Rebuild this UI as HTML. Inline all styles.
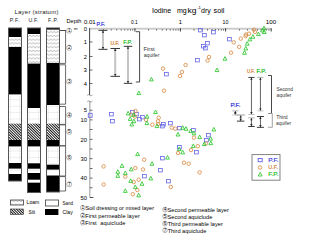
<!DOCTYPE html>
<html><head><meta charset="utf-8"><style>
html,body{margin:0;padding:0;background:#fff;width:300px;height:240px;overflow:hidden}
svg{display:block;font-family:"Liberation Sans", sans-serif}
</style></head><body>
<svg width="300" height="240" viewBox="0 0 300 240">
<defs>
<pattern id="loam" width="3.5" height="3.75" patternUnits="userSpaceOnUse" y="30.3">
<path d="M-1.75 1.2L0 2.5L1.75 1.2L3.5 2.5L5.25 1.2" fill="none" stroke="#999" stroke-width="0.65"/>
</pattern>
<pattern id="sand" width="1.6" height="6.4" patternUnits="userSpaceOnUse" y="1.5">
<rect x="0.4" y="2" width="0.7" height="0.7" fill="#c8c8c8"/>
</pattern>
<pattern id="silt" width="1.9" height="1.9" patternUnits="userSpaceOnUse" patternTransform="rotate(-45)">
<rect x="0" y="0" width="0.95" height="1.9" fill="#111"/>
</pattern>
</defs>

<text x="14.47" y="13.6" font-size="6.0" fill="#222" textLength="43.93" lengthAdjust="spacing" >Layer (stratum)</text>
<text x="9.65" y="21.6" font-size="5.2" fill="#222" textLength="10.05" lengthAdjust="spacing" >P.F.</text>
<text x="28.41" y="21.6" font-size="5.2" fill="#222" textLength="9.66" lengthAdjust="spacing" >U.F.</text>
<text x="48.04" y="21.6" font-size="5.2" fill="#222" textLength="10.27" lengthAdjust="spacing" >F.P.</text>
<rect x="8" y="28" width="14" height="9.0" fill="#000"/>
<rect x="8" y="37" width="14" height="10.0" fill="url(#loam)"/>
<rect x="8" y="47" width="14" height="47.4" fill="#000"/>
<rect x="8" y="94.4" width="14" height="29.2" fill="url(#sand)"/>
<path d="M10.3 95.9V122.1M19.8 95.9V122.1" stroke="#c8c8c8" stroke-width="0.7" stroke-dasharray="0.7 1"/>
<rect x="8" y="123.6" width="14" height="16.4" fill="url(#silt)"/>
<rect x="8" y="140" width="14" height="6.4" fill="#000"/>
<rect x="8" y="146.4" width="14" height="16.6" fill="url(#sand)"/>
<path d="M10.3 147.9V161.5M19.8 147.9V161.5" stroke="#c8c8c8" stroke-width="0.7" stroke-dasharray="0.7 1"/>
<rect x="8" y="163" width="14" height="5.6" fill="#000"/>
<rect x="8" y="168.6" width="14" height="5.4" fill="url(#sand)"/>
<rect x="8" y="174" width="14" height="7.0" fill="#000"/>
<rect x="8.5" y="28" width="13" height="153.0" fill="none" stroke="#555" stroke-width="1"/>
<rect x="27" y="28" width="14" height="6.0" fill="#000"/>
<rect x="27" y="34" width="14" height="29.6" fill="url(#loam)"/>
<rect x="27" y="63.6" width="14" height="44.4" fill="#000"/>
<rect x="27" y="108" width="14" height="15.6" fill="url(#sand)"/>
<path d="M29.3 109.5V122.1M38.8 109.5V122.1" stroke="#c8c8c8" stroke-width="0.7" stroke-dasharray="0.7 1"/>
<rect x="27" y="123.6" width="14" height="16.4" fill="url(#silt)"/>
<rect x="27" y="140" width="14" height="6.4" fill="#000"/>
<rect x="27" y="146.4" width="14" height="16.9" fill="url(#sand)"/>
<path d="M29.3 147.9V161.8M38.8 147.9V161.8" stroke="#c8c8c8" stroke-width="0.7" stroke-dasharray="0.7 1"/>
<rect x="27" y="163.3" width="14" height="5.4" fill="#000"/>
<rect x="27" y="168.7" width="14" height="4.3" fill="url(#sand)"/>
<rect x="27" y="173" width="14" height="6.7" fill="#000"/>
<rect x="27" y="179.7" width="14" height="3.0" fill="url(#sand)"/>
<rect x="27" y="182.7" width="14" height="9.8" fill="#000"/>
<rect x="27.5" y="28" width="13" height="164.5" fill="none" stroke="#555" stroke-width="1"/>
<rect x="46" y="28" width="14" height="1.6" fill="#000"/>
<rect x="46" y="29.6" width="14" height="33.4" fill="url(#loam)"/>
<rect x="46" y="63" width="14" height="42.0" fill="#000"/>
<rect x="46" y="105" width="14" height="18.6" fill="url(#sand)"/>
<path d="M48.3 106.5V122.1M57.8 106.5V122.1" stroke="#c8c8c8" stroke-width="0.7" stroke-dasharray="0.7 1"/>
<rect x="46" y="123.6" width="14" height="16.4" fill="url(#silt)"/>
<rect x="46" y="140" width="14" height="6.4" fill="#000"/>
<rect x="46" y="146.4" width="14" height="18.3" fill="url(#sand)"/>
<path d="M48.3 147.9V163.2M57.8 147.9V163.2" stroke="#c8c8c8" stroke-width="0.7" stroke-dasharray="0.7 1"/>
<rect x="46" y="164.7" width="14" height="4.9" fill="#000"/>
<rect x="46" y="169.6" width="14" height="5.9" fill="url(#sand)"/>
<rect x="46" y="175.5" width="14" height="16.5" fill="#000"/>
<rect x="46.5" y="28" width="13" height="164.0" fill="none" stroke="#555" stroke-width="1"/>
<path d="M60 30.5H66" stroke="#444" stroke-width="0.8" fill="none"/>
<path d="M60 30.5H65.6V63.4H60" stroke="#444" stroke-width="0.8" fill="none"/>
<path d="M60 64.8H65.6V104.2H60" stroke="#444" stroke-width="0.8" fill="none"/>
<path d="M60 106.5H65.6V124.4H60" stroke="#444" stroke-width="0.8" fill="none"/>
<path d="M60 124.9H65.6V145.8H60" stroke="#444" stroke-width="0.8" fill="none"/>
<path d="M60 145.8H65.6V176H60" stroke="#444" stroke-width="0.8" fill="none"/>
<path d="M60 176.6H65.6V191H60" stroke="#444" stroke-width="0.8" fill="none"/>
<circle cx="69.2" cy="30.7" r="2.5" fill="none" stroke="#666" stroke-width="0.5"/><text x="69.3" y="32.35" font-size="4.6" text-anchor="middle" fill="#000">1</text>
<circle cx="69.2" cy="47.8" r="2.5" fill="none" stroke="#666" stroke-width="0.5"/><text x="69.3" y="49.449999999999996" font-size="4.6" text-anchor="middle" fill="#000">2</text>
<circle cx="69.2" cy="81.5" r="2.5" fill="none" stroke="#666" stroke-width="0.5"/><text x="69.3" y="83.15" font-size="4.6" text-anchor="middle" fill="#000">3</text>
<circle cx="69.2" cy="115" r="2.5" fill="none" stroke="#666" stroke-width="0.5"/><text x="69.3" y="116.65" font-size="4.6" text-anchor="middle" fill="#000">4</text>
<circle cx="69.2" cy="131.8" r="2.5" fill="none" stroke="#666" stroke-width="0.5"/><text x="69.3" y="133.45000000000002" font-size="4.6" text-anchor="middle" fill="#000">5</text>
<circle cx="69.2" cy="157.5" r="2.5" fill="none" stroke="#666" stroke-width="0.5"/><text x="69.3" y="159.15" font-size="4.6" text-anchor="middle" fill="#000">6</text>
<circle cx="69.2" cy="184.3" r="2.5" fill="none" stroke="#666" stroke-width="0.5"/><text x="69.3" y="185.95000000000002" font-size="4.6" text-anchor="middle" fill="#000">7</text>
<text x="66.54" y="23" font-size="5.6" fill="#000" textLength="14.82" lengthAdjust="spacingAndGlyphs" >Depth</text>
<text x="74" y="29.5" font-size="4.2" fill="#000" text-anchor="start" >m</text>
<text x="87" y="31.4" font-size="5.8" fill="#000" text-anchor="end" >0</text>
<text x="87" y="44.3" font-size="5.8" fill="#000" text-anchor="end" >1</text>
<text x="87" y="58.6" font-size="5.8" fill="#000" text-anchor="end" >2</text>
<text x="87" y="72.4" font-size="6.1" fill="#000" text-anchor="end" >3</text>
<text x="87" y="85.6" font-size="5.8" fill="#000" text-anchor="end" >4</text>
<text x="87" y="112.2" font-size="5.8" fill="#000" text-anchor="end" >5</text>
<text x="87" y="122.3" font-size="5.8" fill="#000" text-anchor="end" >10</text>
<text x="87" y="141.8" font-size="5.8" fill="#000" text-anchor="end" >20</text>
<text x="87" y="161.3" font-size="5.8" fill="#000" text-anchor="end" >30</text>
<text x="87" y="180.4" font-size="5.8" fill="#000" text-anchor="end" >40</text>
<text x="87" y="200" font-size="5.8" fill="#000" text-anchor="end" >50</text>
<rect x="89" y="27.8" width="182.5" height="1.8" fill="#c8c8c8"/>
<rect x="89.0" y="28.3" width="0.9" height="3.2" fill="#222"/>
<rect x="134.5" y="28.3" width="0.9" height="3.2" fill="#222"/>
<rect x="179.9" y="28.3" width="0.9" height="3.2" fill="#222"/>
<rect x="225.2" y="28.3" width="0.9" height="3.2" fill="#222"/>
<rect x="270.7" y="28.3" width="0.9" height="3.2" fill="#222"/>
<rect x="102.8" y="29.2" width="0.8" height="1.3" fill="#333"/>
<rect x="110.8" y="29.2" width="0.8" height="1.3" fill="#333"/>
<rect x="116.4" y="29.2" width="0.8" height="1.3" fill="#333"/>
<rect x="120.8" y="29.2" width="0.8" height="1.3" fill="#333"/>
<rect x="124.4" y="29.2" width="0.8" height="1.3" fill="#333"/>
<rect x="127.5" y="29.2" width="0.8" height="1.3" fill="#333"/>
<rect x="130.1" y="29.2" width="0.8" height="1.3" fill="#333"/>
<rect x="132.4" y="29.2" width="0.8" height="1.3" fill="#333"/>
<rect x="148.2" y="29.2" width="0.8" height="1.3" fill="#333"/>
<rect x="156.2" y="29.2" width="0.8" height="1.3" fill="#333"/>
<rect x="161.8" y="29.2" width="0.8" height="1.3" fill="#333"/>
<rect x="166.2" y="29.2" width="0.8" height="1.3" fill="#333"/>
<rect x="169.8" y="29.2" width="0.8" height="1.3" fill="#333"/>
<rect x="172.9" y="29.2" width="0.8" height="1.3" fill="#333"/>
<rect x="175.5" y="29.2" width="0.8" height="1.3" fill="#333"/>
<rect x="177.8" y="29.2" width="0.8" height="1.3" fill="#333"/>
<rect x="193.6" y="29.2" width="0.8" height="1.3" fill="#333"/>
<rect x="201.6" y="29.2" width="0.8" height="1.3" fill="#333"/>
<rect x="207.2" y="29.2" width="0.8" height="1.3" fill="#333"/>
<rect x="211.6" y="29.2" width="0.8" height="1.3" fill="#333"/>
<rect x="215.2" y="29.2" width="0.8" height="1.3" fill="#333"/>
<rect x="218.3" y="29.2" width="0.8" height="1.3" fill="#333"/>
<rect x="220.9" y="29.2" width="0.8" height="1.3" fill="#333"/>
<rect x="223.2" y="29.2" width="0.8" height="1.3" fill="#333"/>
<rect x="239.0" y="29.2" width="0.8" height="1.3" fill="#333"/>
<rect x="247.0" y="29.2" width="0.8" height="1.3" fill="#333"/>
<rect x="252.6" y="29.2" width="0.8" height="1.3" fill="#333"/>
<rect x="257.0" y="29.2" width="0.8" height="1.3" fill="#333"/>
<rect x="260.6" y="29.2" width="0.8" height="1.3" fill="#333"/>
<rect x="263.7" y="29.2" width="0.8" height="1.3" fill="#333"/>
<rect x="266.3" y="29.2" width="0.8" height="1.3" fill="#333"/>
<rect x="268.6" y="29.2" width="0.8" height="1.3" fill="#333"/>
<rect x="89" y="28" width="1.1" height="67" fill="#555"/>
<rect x="90" y="41.6" width="2.5" height="0.8" fill="#444"/>
<rect x="90" y="56.1" width="2.5" height="0.8" fill="#444"/>
<rect x="90" y="69.6" width="2.5" height="0.8" fill="#444"/>
<rect x="90" y="83.1" width="2.5" height="0.8" fill="#444"/>
<path d="M87.2 95.3Q88.5 94 89.8 95.3T92.5 95" stroke="#666" stroke-width="0.6" fill="none"/>
<rect x="89.2" y="101" width="1.2" height="96.5" fill="#aaa"/>
<path d="M87.2 101.5Q88.5 100.2 89.8 101.5T92.5 101" stroke="#666" stroke-width="0.6" fill="none"/>
<rect x="90" y="109.8" width="2.5" height="0.8" fill="#444"/>
<rect x="90" y="119.5" width="2.5" height="0.8" fill="#444"/>
<rect x="90" y="129.2" width="2.5" height="0.8" fill="#444"/>
<rect x="90" y="138.9" width="2.5" height="0.8" fill="#444"/>
<rect x="90" y="148.6" width="2.5" height="0.8" fill="#444"/>
<rect x="90" y="158.3" width="2.5" height="0.8" fill="#444"/>
<rect x="90" y="168.0" width="2.5" height="0.8" fill="#444"/>
<rect x="90" y="177.7" width="2.5" height="0.8" fill="#444"/>
<rect x="90" y="187.4" width="2.5" height="0.8" fill="#444"/>
<rect x="90" y="197.1" width="2.5" height="0.8" fill="#444"/>
<rect x="90" y="197" width="3.5" height="0.8" fill="#444"/>
<text x="83.96" y="23.9" font-size="5.8" fill="#000" textLength="11.73" lengthAdjust="spacingAndGlyphs" >0.01</text>
<text x="131.01" y="23.9" font-size="5.8" fill="#000" textLength="6.73" lengthAdjust="spacingAndGlyphs" >0.1</text>
<text x="222.60" y="23.9" font-size="5.8" fill="#000" textLength="5.80" lengthAdjust="spacingAndGlyphs" >10</text>
<text x="265.82" y="23.9" font-size="5.8" fill="#000" textLength="10.42" lengthAdjust="spacingAndGlyphs" >100</text>
<text x="180.3" y="23.9" font-size="5.8" fill="#000" text-anchor="middle" >1</text>
<text x="151.95" y="12.7" font-size="6.4" fill="#000" textLength="19.16" lengthAdjust="spacingAndGlyphs" >Iodine</text>
<text x="177.04" y="12.7" font-size="6.4" fill="#000" textLength="9.72" lengthAdjust="spacingAndGlyphs" >mg</text>
<text x="187.43" y="12.7" font-size="6.4" fill="#000" textLength="8.91" lengthAdjust="spacingAndGlyphs" >kg</text>
<text x="197.21" y="9.4" font-size="4.0" fill="#000" textLength="3.80" lengthAdjust="spacingAndGlyphs" >-1</text>
<text x="201.11" y="12.7" font-size="6.4" fill="#000" textLength="9.71" lengthAdjust="spacingAndGlyphs" >dry</text>
<text x="213.50" y="12.7" font-size="6.4" fill="#000" textLength="10.89" lengthAdjust="spacingAndGlyphs" >soil</text>
<rect x="102" y="30.3" width="2" height="19.0" fill="#c4c4c4"/><rect x="98.5" y="29.85" width="9" height="0.9" fill="#222"/><rect x="98.5" y="48.85" width="9" height="0.9" fill="#222"/><path d="M103 30.6L104.2 32.7L101.8 32.7Z" fill="#222"/><path d="M103 49.0L104.2 46.9L101.8 46.9Z" fill="#222"/>
<rect x="114.2" y="48.5" width="2" height="27.8" fill="#c4c4c4"/><rect x="110.5" y="48.05" width="9.5" height="0.9" fill="#222"/><rect x="110.5" y="75.85" width="9.5" height="0.9" fill="#222"/><path d="M115.2 48.8L116.4 50.9L114.0 50.9Z" fill="#222"/><path d="M115.2 76.0L116.4 73.9L114.0 73.9Z" fill="#222"/>
<rect x="127" y="46.3" width="2" height="37.0" fill="#c4c4c4"/><rect x="123.8" y="45.85" width="8.5" height="0.9" fill="#222"/><rect x="123.8" y="82.85" width="8.5" height="0.9" fill="#222"/><path d="M128 46.6L129.2 48.7L126.8 48.7Z" fill="#222"/><path d="M128 83.0L129.2 80.9L126.8 80.9Z" fill="#222"/>
<text x="96.51" y="25.6" font-size="5.0" fill="#3c3cd8" textLength="8.61" lengthAdjust="spacingAndGlyphs" stroke="#3c3cd8" stroke-width="0.2">P.F.</text>
<text x="110.44" y="44.6" font-size="5.0" fill="#d27c32" textLength="8.78" lengthAdjust="spacingAndGlyphs" stroke="#d27c32" stroke-width="0.2">U.F.</text>
<text x="123.20" y="43.5" font-size="5.0" fill="#28c028" textLength="8.84" lengthAdjust="spacingAndGlyphs" stroke="#28c028" stroke-width="0.2">F.P.</text>
<path d="M135.8 31.7H139.6V82H135.8" stroke="#333" stroke-width="0.9" fill="none"/>
<text x="143.53" y="51" font-size="5" fill="#333" textLength="11.22" lengthAdjust="spacingAndGlyphs" >First</text>
<text x="143.78" y="56.6" font-size="5" fill="#333" textLength="15.60" lengthAdjust="spacingAndGlyphs" >aquifer</text>
<rect x="250.95000000000002" y="77.4" width="0.9" height="37.1" fill="#555"/><rect x="248.3" y="76.95" width="6.2" height="0.9" fill="#333"/><rect x="248.3" y="114.05" width="6.2" height="0.9" fill="#bbb"/><path d="M251.4 77.7L252.6 79.8L250.2 79.8Z" fill="#222"/><path d="M251.4 114.2L252.6 112.1L250.2 112.1Z" fill="#222"/>
<rect x="259.95" y="77.4" width="0.9" height="33.5" fill="#555"/><rect x="257.3" y="76.95" width="6.2" height="0.9" fill="#aaa"/><rect x="257.3" y="110.45" width="6.2" height="0.9" fill="#bbb"/><path d="M260.4 77.7L261.6 79.8L259.2 79.8Z" fill="#222"/><path d="M260.4 110.6L261.6 108.5L259.2 108.5Z" fill="#222"/>
<text x="246.98" y="73.3" font-size="4.9" fill="#d27c32" textLength="7.80" lengthAdjust="spacingAndGlyphs" stroke="#d27c32" stroke-width="0.2">U.F.</text>
<text x="256.58" y="73.3" font-size="4.9" fill="#28c028" textLength="9.50" lengthAdjust="spacingAndGlyphs" stroke="#28c028" stroke-width="0.2">F.P.</text>
<text x="230.45" y="107.4" font-size="4.9" fill="#3c3cd8" textLength="10.05" lengthAdjust="spacingAndGlyphs" stroke="#3c3cd8" stroke-width="0.2">P.F.</text>
<rect x="234.85000000000002" y="110.9" width="0.9" height="4.0" fill="#555"/><rect x="232.3" y="110.45" width="6" height="0.9" fill="#aaa"/><rect x="232.3" y="114.45" width="6" height="0.9" fill="#bbb"/><path d="M235.3 111.2L236.5 113.3L234.1 113.3Z" fill="#222"/><path d="M235.3 114.6L236.5 112.5L234.1 112.5Z" fill="#222"/>
<rect x="235" y="114.45" width="10.3" height="0.9" fill="#bbb"/>
<rect x="240.25" y="115.2" width="0.9" height="5.9" fill="#555"/><rect x="236.9" y="114.75" width="7.5" height="0.9" fill="#bbb"/><rect x="236.9" y="120.65" width="7.5" height="0.9" fill="#222"/><path d="M240.7 115.5L241.9 117.6L239.5 117.6Z" fill="#222"/><path d="M240.7 120.8L241.9 118.7L239.5 118.7Z" fill="#222"/>
<rect x="250.95000000000002" y="117.9" width="0.9" height="8.6" fill="#555"/><rect x="248.2" y="117.45" width="6.5" height="0.9" fill="#aaa"/><rect x="248.2" y="126.05" width="6.5" height="0.9" fill="#222"/><path d="M251.4 118.2L252.6 120.3L250.2 120.3Z" fill="#222"/><path d="M251.4 126.2L252.6 124.1L250.2 124.1Z" fill="#222"/>
<rect x="259.95" y="116.5" width="0.9" height="10.8" fill="#555"/><rect x="256.9" y="116.05" width="7" height="0.9" fill="#222"/><rect x="256.9" y="126.85" width="7" height="0.9" fill="#222"/><path d="M260.4 116.8L261.6 118.9L259.2 118.9Z" fill="#222"/><path d="M260.4 127.0L261.6 124.9L259.2 124.9Z" fill="#222"/>
<path d="M268 75.5H271.5V113.5H268" stroke="#333" stroke-width="0.9" fill="none"/>
<path d="M268 113.5H272.3V127.3H268" stroke="#999" stroke-width="0.9" fill="none"/>
<text x="276.48" y="90.8" font-size="5" fill="#333" textLength="16.54" lengthAdjust="spacingAndGlyphs" >Second</text>
<text x="276.49" y="96.6" font-size="5" fill="#333" textLength="14.89" lengthAdjust="spacingAndGlyphs" >aquifer</text>
<text x="276.19" y="118.6" font-size="5" fill="#333" textLength="11.44" lengthAdjust="spacingAndGlyphs" >Third</text>
<text x="276.09" y="124.6" font-size="5" fill="#333" textLength="14.99" lengthAdjust="spacingAndGlyphs" >aquifer</text>
<rect x="88.3" y="113.3" width="3.8" height="4" fill="none" stroke="#6e6ee6" stroke-width="0.9"/>
<rect x="198.5" y="28.5" width="3.8" height="3.4" fill="none" stroke="#6e6ee6" stroke-width="0.85"/>
<rect x="202.5" y="33.5" width="3.8" height="3.4" fill="none" stroke="#6e6ee6" stroke-width="0.85"/>
<rect x="211.5" y="30.5" width="3.8" height="3.4" fill="none" stroke="#6e6ee6" stroke-width="0.85"/>
<rect x="227.5" y="37.5" width="3.8" height="3.4" fill="none" stroke="#6e6ee6" stroke-width="0.85"/>
<rect x="205.5" y="41.5" width="3.8" height="3.4" fill="none" stroke="#6e6ee6" stroke-width="0.85"/>
<rect x="201.5" y="44.5" width="3.8" height="3.4" fill="none" stroke="#6e6ee6" stroke-width="0.85"/>
<rect x="203.5" y="46.5" width="3.8" height="3.4" fill="none" stroke="#6e6ee6" stroke-width="0.85"/>
<rect x="195.5" y="58.5" width="3.8" height="3.4" fill="none" stroke="#6e6ee6" stroke-width="0.85"/>
<rect x="164.5" y="72.5" width="3.8" height="3.4" fill="none" stroke="#6e6ee6" stroke-width="0.85"/>
<rect x="109.5" y="112.5" width="3.8" height="3.4" fill="none" stroke="#6e6ee6" stroke-width="0.85"/>
<rect x="110.5" y="119.5" width="3.8" height="3.4" fill="none" stroke="#6e6ee6" stroke-width="0.85"/>
<rect x="130.5" y="110.5" width="3.8" height="3.4" fill="none" stroke="#6e6ee6" stroke-width="0.85"/>
<rect x="134.5" y="112.5" width="3.8" height="3.4" fill="none" stroke="#6e6ee6" stroke-width="0.85"/>
<rect x="137.5" y="117.5" width="3.8" height="3.4" fill="none" stroke="#6e6ee6" stroke-width="0.85"/>
<rect x="140.5" y="115.5" width="3.8" height="3.4" fill="none" stroke="#6e6ee6" stroke-width="0.85"/>
<rect x="161.5" y="122.5" width="3.8" height="3.4" fill="none" stroke="#6e6ee6" stroke-width="0.85"/>
<rect x="160.5" y="124.5" width="3.8" height="3.4" fill="none" stroke="#6e6ee6" stroke-width="0.85"/>
<rect x="168.5" y="121.5" width="3.8" height="3.4" fill="none" stroke="#6e6ee6" stroke-width="0.85"/>
<rect x="177.5" y="126.5" width="3.8" height="3.4" fill="none" stroke="#6e6ee6" stroke-width="0.85"/>
<rect x="191.5" y="128.5" width="3.8" height="3.4" fill="none" stroke="#6e6ee6" stroke-width="0.85"/>
<rect x="206.5" y="133.5" width="3.8" height="3.4" fill="none" stroke="#6e6ee6" stroke-width="0.85"/>
<rect x="204.5" y="138.5" width="3.8" height="3.4" fill="none" stroke="#6e6ee6" stroke-width="0.85"/>
<rect x="177.5" y="145.5" width="3.8" height="3.4" fill="none" stroke="#6e6ee6" stroke-width="0.85"/>
<rect x="194.5" y="150.5" width="3.8" height="3.4" fill="none" stroke="#6e6ee6" stroke-width="0.85"/>
<rect x="160.5" y="156.5" width="3.8" height="3.4" fill="none" stroke="#6e6ee6" stroke-width="0.85"/>
<rect x="158.5" y="168.5" width="3.8" height="3.4" fill="none" stroke="#6e6ee6" stroke-width="0.85"/>
<rect x="142.5" y="174.5" width="3.8" height="3.4" fill="none" stroke="#6e6ee6" stroke-width="0.85"/>
<rect x="166.5" y="179.5" width="3.8" height="3.4" fill="none" stroke="#6e6ee6" stroke-width="0.85"/>
<circle cx="163.0" cy="68.6" r="1.75" fill="none" stroke="#d98c48" stroke-width="0.85"/>
<circle cx="185.6" cy="65.0" r="1.75" fill="none" stroke="#d98c48" stroke-width="0.85"/>
<circle cx="182.0" cy="72.0" r="1.75" fill="none" stroke="#d98c48" stroke-width="0.85"/>
<circle cx="180.0" cy="76.0" r="1.75" fill="none" stroke="#d98c48" stroke-width="0.85"/>
<circle cx="164.0" cy="90.7" r="1.75" fill="none" stroke="#d98c48" stroke-width="0.85"/>
<circle cx="209.0" cy="57.0" r="1.75" fill="none" stroke="#d98c48" stroke-width="0.85"/>
<circle cx="207.6" cy="60.6" r="1.75" fill="none" stroke="#d98c48" stroke-width="0.85"/>
<circle cx="231.0" cy="52.7" r="1.75" fill="none" stroke="#d98c48" stroke-width="0.85"/>
<circle cx="233.7" cy="42.3" r="1.75" fill="none" stroke="#d98c48" stroke-width="0.85"/>
<circle cx="239.2" cy="46.8" r="1.75" fill="none" stroke="#d98c48" stroke-width="0.85"/>
<circle cx="240.8" cy="38.6" r="1.75" fill="none" stroke="#d98c48" stroke-width="0.85"/>
<circle cx="245.6" cy="36.1" r="1.75" fill="none" stroke="#d98c48" stroke-width="0.85"/>
<circle cx="246.1" cy="34.5" r="1.75" fill="none" stroke="#d98c48" stroke-width="0.85"/>
<circle cx="249.0" cy="33.7" r="1.75" fill="none" stroke="#d98c48" stroke-width="0.85"/>
<circle cx="253.9" cy="29.7" r="1.75" fill="none" stroke="#d98c48" stroke-width="0.85"/>
<circle cx="255.0" cy="31.9" r="1.75" fill="none" stroke="#d98c48" stroke-width="0.85"/>
<circle cx="135.5" cy="111.0" r="1.75" fill="none" stroke="#d98c48" stroke-width="0.85"/>
<circle cx="131.3" cy="114.7" r="1.75" fill="none" stroke="#d98c48" stroke-width="0.85"/>
<circle cx="135.0" cy="116.6" r="1.75" fill="none" stroke="#d98c48" stroke-width="0.85"/>
<circle cx="146.0" cy="119.8" r="1.75" fill="none" stroke="#d98c48" stroke-width="0.85"/>
<circle cx="152.4" cy="124.7" r="1.75" fill="none" stroke="#d98c48" stroke-width="0.85"/>
<circle cx="158.7" cy="117.7" r="1.75" fill="none" stroke="#d98c48" stroke-width="0.85"/>
<circle cx="158.0" cy="121.3" r="1.75" fill="none" stroke="#d98c48" stroke-width="0.85"/>
<circle cx="158.0" cy="123.9" r="1.75" fill="none" stroke="#d98c48" stroke-width="0.85"/>
<circle cx="171.7" cy="127.7" r="1.75" fill="none" stroke="#d98c48" stroke-width="0.85"/>
<circle cx="175.3" cy="128.7" r="1.75" fill="none" stroke="#d98c48" stroke-width="0.85"/>
<circle cx="194.0" cy="137.6" r="1.75" fill="none" stroke="#d98c48" stroke-width="0.85"/>
<circle cx="205.9" cy="143.5" r="1.75" fill="none" stroke="#d98c48" stroke-width="0.85"/>
<circle cx="197.8" cy="146.2" r="1.75" fill="none" stroke="#d98c48" stroke-width="0.85"/>
<circle cx="191.0" cy="150.0" r="1.75" fill="none" stroke="#d98c48" stroke-width="0.85"/>
<circle cx="178.0" cy="153.0" r="1.75" fill="none" stroke="#d98c48" stroke-width="0.85"/>
<circle cx="184.0" cy="162.7" r="1.75" fill="none" stroke="#d98c48" stroke-width="0.85"/>
<circle cx="188.7" cy="163.7" r="1.75" fill="none" stroke="#d98c48" stroke-width="0.85"/>
<circle cx="199.6" cy="172.4" r="1.75" fill="none" stroke="#d98c48" stroke-width="0.85"/>
<circle cx="144.2" cy="159.7" r="1.75" fill="none" stroke="#d98c48" stroke-width="0.85"/>
<circle cx="143.0" cy="169.5" r="1.75" fill="none" stroke="#d98c48" stroke-width="0.85"/>
<circle cx="135.3" cy="168.0" r="1.75" fill="none" stroke="#d98c48" stroke-width="0.85"/>
<circle cx="125.3" cy="176.7" r="1.75" fill="none" stroke="#d98c48" stroke-width="0.85"/>
<circle cx="138.7" cy="179.7" r="1.75" fill="none" stroke="#d98c48" stroke-width="0.85"/>
<circle cx="133.7" cy="182.0" r="1.75" fill="none" stroke="#d98c48" stroke-width="0.85"/>
<circle cx="137.3" cy="190.0" r="1.75" fill="none" stroke="#d98c48" stroke-width="0.85"/>
<circle cx="132.8" cy="194.2" r="1.75" fill="none" stroke="#d98c48" stroke-width="0.85"/>
<circle cx="103.6" cy="166.4" r="1.75" fill="none" stroke="#d98c48" stroke-width="0.85"/>
<circle cx="103.6" cy="184.5" r="1.75" fill="none" stroke="#d98c48" stroke-width="0.85"/>
<circle cx="170.8" cy="187.0" r="1.75" fill="none" stroke="#d98c48" stroke-width="0.85"/>
<path d="M151.4 77.3L153.3 80.9L149.5 80.9Z" fill="none" stroke="#38c838" stroke-width="0.9"/>
<path d="M138.8 91.0L140.7 94.6L136.9 94.6Z" fill="none" stroke="#38c838" stroke-width="0.9"/>
<path d="M217.0 68.0L218.9 71.6L215.1 71.6Z" fill="none" stroke="#38c838" stroke-width="0.9"/>
<path d="M225.0 56.6L226.9 60.2L223.1 60.2Z" fill="none" stroke="#38c838" stroke-width="0.9"/>
<path d="M244.5 50.7L246.4 54.3L242.6 54.3Z" fill="none" stroke="#38c838" stroke-width="0.9"/>
<path d="M245.8 46.4L247.7 50.0L243.9 50.0Z" fill="none" stroke="#38c838" stroke-width="0.9"/>
<path d="M247.2 41.6L249.1 45.2L245.3 45.2Z" fill="none" stroke="#38c838" stroke-width="0.9"/>
<path d="M249.9 37.3L251.8 40.9L248.0 40.9Z" fill="none" stroke="#38c838" stroke-width="0.9"/>
<path d="M252.9 34.7L254.8 38.3L251.0 38.3Z" fill="none" stroke="#38c838" stroke-width="0.9"/>
<path d="M258.4 32.0L260.3 35.6L256.5 35.6Z" fill="none" stroke="#38c838" stroke-width="0.9"/>
<path d="M262.5 28.3L264.4 31.9L260.6 31.9Z" fill="none" stroke="#38c838" stroke-width="0.9"/>
<path d="M264.0 26.1L265.9 29.7L262.1 29.7Z" fill="none" stroke="#38c838" stroke-width="0.9"/>
<path d="M264.3 29.9L266.2 33.5L262.4 33.5Z" fill="none" stroke="#38c838" stroke-width="0.9"/>
<path d="M128.1 111.3L130.0 114.9L126.2 114.9Z" fill="none" stroke="#38c838" stroke-width="0.9"/>
<path d="M133.6 112.7L135.5 116.3L131.7 116.3Z" fill="none" stroke="#38c838" stroke-width="0.9"/>
<path d="M130.2 116.8L132.1 120.4L128.3 120.4Z" fill="none" stroke="#38c838" stroke-width="0.9"/>
<path d="M133.9 119.1L135.8 122.7L132.0 122.7Z" fill="none" stroke="#38c838" stroke-width="0.9"/>
<path d="M131.8 122.3L133.7 125.9L129.9 125.9Z" fill="none" stroke="#38c838" stroke-width="0.9"/>
<path d="M147.1 114.6L149.0 118.2L145.2 118.2Z" fill="none" stroke="#38c838" stroke-width="0.9"/>
<path d="M146.9 121.0L148.8 124.6L145.0 124.6Z" fill="none" stroke="#38c838" stroke-width="0.9"/>
<path d="M155.5 110.0L157.4 113.6L153.6 113.6Z" fill="none" stroke="#38c838" stroke-width="0.9"/>
<path d="M157.0 124.0L158.9 127.6L155.1 127.6Z" fill="none" stroke="#38c838" stroke-width="0.9"/>
<path d="M182.7 125.7L184.6 129.3L180.8 129.3Z" fill="none" stroke="#38c838" stroke-width="0.9"/>
<path d="M186.0 126.7L187.9 130.3L184.1 130.3Z" fill="none" stroke="#38c838" stroke-width="0.9"/>
<path d="M178.0 132.4L179.9 136.0L176.1 136.0Z" fill="none" stroke="#38c838" stroke-width="0.9"/>
<path d="M190.7 129.0L192.6 132.6L188.8 132.6Z" fill="none" stroke="#38c838" stroke-width="0.9"/>
<path d="M194.0 131.2L195.9 134.8L192.1 134.8Z" fill="none" stroke="#38c838" stroke-width="0.9"/>
<path d="M199.7 135.0L201.6 138.6L197.8 138.6Z" fill="none" stroke="#38c838" stroke-width="0.9"/>
<path d="M213.8 127.4L215.7 131.0L211.9 131.0Z" fill="none" stroke="#38c838" stroke-width="0.9"/>
<path d="M210.6 136.6L212.5 140.2L208.7 140.2Z" fill="none" stroke="#38c838" stroke-width="0.9"/>
<path d="M210.8 141.0L212.7 144.6L208.9 144.6Z" fill="none" stroke="#38c838" stroke-width="0.9"/>
<path d="M204.3 142.0L206.2 145.6L202.4 145.6Z" fill="none" stroke="#38c838" stroke-width="0.9"/>
<path d="M193.3 144.0L195.2 147.6L191.4 147.6Z" fill="none" stroke="#38c838" stroke-width="0.9"/>
<path d="M179.3 147.0L181.2 150.6L177.4 150.6Z" fill="none" stroke="#38c838" stroke-width="0.9"/>
<path d="M182.7 150.3L184.6 153.9L180.8 153.9Z" fill="none" stroke="#38c838" stroke-width="0.9"/>
<path d="M167.5 155.5L169.4 159.1L165.6 159.1Z" fill="none" stroke="#38c838" stroke-width="0.9"/>
<path d="M152.0 161.7L153.9 165.3L150.1 165.3Z" fill="none" stroke="#38c838" stroke-width="0.9"/>
<path d="M150.8 176.3L152.7 179.9L148.9 179.9Z" fill="none" stroke="#38c838" stroke-width="0.9"/>
<path d="M137.6 152.0L139.5 155.6L135.7 155.6Z" fill="none" stroke="#38c838" stroke-width="0.9"/>
<path d="M122.0 163.8L123.9 167.4L120.1 167.4Z" fill="none" stroke="#38c838" stroke-width="0.9"/>
<path d="M117.8 169.7L119.7 173.3L115.9 173.3Z" fill="none" stroke="#38c838" stroke-width="0.9"/>
<path d="M117.8 173.8L119.7 177.4L115.9 177.4Z" fill="none" stroke="#38c838" stroke-width="0.9"/>
<path d="M125.3 171.0L127.2 174.6L123.4 174.6Z" fill="none" stroke="#38c838" stroke-width="0.9"/>
<path d="M131.2 167.2L133.1 170.8L129.3 170.8Z" fill="none" stroke="#38c838" stroke-width="0.9"/>
<path d="M130.7 178.8L132.6 182.4L128.8 182.4Z" fill="none" stroke="#38c838" stroke-width="0.9"/>
<path d="M142.0 181.7L143.9 185.3L140.1 185.3Z" fill="none" stroke="#38c838" stroke-width="0.9"/>
<path d="M135.3 185.0L137.2 188.6L133.4 188.6Z" fill="none" stroke="#38c838" stroke-width="0.9"/>
<path d="M125.3 188.8L127.2 192.4L123.4 192.4Z" fill="none" stroke="#38c838" stroke-width="0.9"/>
<path d="M138.7 193.3L140.6 196.9L136.8 196.9Z" fill="none" stroke="#38c838" stroke-width="0.9"/>
<rect x="252" y="154.6" width="28" height="25.6" fill="none" stroke="#777" stroke-width="0.9"/>
<rect x="258.2" y="158.5" width="4" height="3.2" fill="none" stroke="#6e6ee6" stroke-width="1"/>
<circle cx="260.0" cy="167.5" r="1.75" fill="none" stroke="#d98c48" stroke-width="0.85"/>
<path d="M260.2 172.4L262.1 176.0L258.3 176.0Z" fill="none" stroke="#38c838" stroke-width="0.9"/>
<text x="268.24" y="162" font-size="5.2" fill="#3c3cd8" textLength="10.27" lengthAdjust="spacingAndGlyphs" stroke="#3c3cd8" stroke-width="0.15">P.F.</text>
<text x="268.31" y="169.2" font-size="5.2" fill="#d27c32" textLength="9.66" lengthAdjust="spacingAndGlyphs" stroke="#d27c32" stroke-width="0.15">U.F.</text>
<text x="268.24" y="176.4" font-size="5.2" fill="#28c028" textLength="10.27" lengthAdjust="spacingAndGlyphs" stroke="#28c028" stroke-width="0.15">F.P.</text>
<rect x="10.5" y="200" width="13" height="5" fill="url(#loam)" stroke="#555" stroke-width="0.9"/>
<rect x="10.5" y="209" width="13" height="5.5" fill="url(#silt)" stroke="#333" stroke-width="0.6"/>
<rect x="45.5" y="200" width="13" height="6" fill="#fff" stroke="#555" stroke-width="0.9"/>
<rect x="45" y="209" width="13.4" height="6" fill="#000"/>
<text x="26.58" y="204" font-size="5" fill="#000" textLength="12.75" lengthAdjust="spacingAndGlyphs" >Loam</text>
<text x="28.49" y="213.9" font-size="5" fill="#000" textLength="6.55" lengthAdjust="spacingAndGlyphs" >Silt</text>
<text x="62.50" y="204.6" font-size="5" fill="#000" textLength="10.49" lengthAdjust="spacingAndGlyphs" >Sand</text>
<text x="62.44" y="214" font-size="5" fill="#000" textLength="10.27" lengthAdjust="spacingAndGlyphs" >Clay</text>
<rect x="80.6" y="205.5" width="4.4" height="4.7" rx="2" fill="none" stroke="#666" stroke-width="0.5"/><text x="82.85" y="209.40" font-size="4.6" text-anchor="middle" fill="#000">1</text>
<text x="85.45" y="210.3" font-size="5.6" fill="#000" textLength="68.65" lengthAdjust="spacing" xml:space="preserve">Soil dressing or mixed layer</text>
<rect x="80.6" y="213.1" width="4.4" height="4.7" rx="2" fill="none" stroke="#666" stroke-width="0.5"/><text x="82.85" y="217.00" font-size="4.6" text-anchor="middle" fill="#000">2</text>
<text x="85.22" y="217.9" font-size="5.6" fill="#000" textLength="54.57" lengthAdjust="spacing" xml:space="preserve">First permeable layer</text>
<rect x="80.6" y="220.3" width="4.4" height="4.7" rx="2" fill="none" stroke="#666" stroke-width="0.5"/><text x="82.85" y="224.20" font-size="4.6" text-anchor="middle" fill="#000">3</text>
<text x="85.22" y="225.1" font-size="5.6" fill="#000" textLength="40.05" lengthAdjust="spacing" xml:space="preserve">First  aquiclude</text>
<rect x="162.8" y="207.2" width="4.4" height="4.7" rx="2" fill="none" stroke="#666" stroke-width="0.5"/><text x="165.05" y="211.10" font-size="4.6" text-anchor="middle" fill="#000">4</text>
<text x="167.54" y="212" font-size="5.6" fill="#000" textLength="61.25" lengthAdjust="spacing" >Second permeable layer</text>
<rect x="162.8" y="214.1" width="4.4" height="4.7" rx="2" fill="none" stroke="#666" stroke-width="0.5"/><text x="165.05" y="218.00" font-size="4.6" text-anchor="middle" fill="#000">5</text>
<text x="167.54" y="218.9" font-size="5.6" fill="#000" textLength="44.71" lengthAdjust="spacing" >Second aquiclude</text>
<rect x="162.8" y="221.2" width="4.4" height="4.7" rx="2" fill="none" stroke="#666" stroke-width="0.5"/><text x="165.05" y="225.10" font-size="4.6" text-anchor="middle" fill="#000">6</text>
<text x="167.67" y="226" font-size="5.6" fill="#000" textLength="55.12" lengthAdjust="spacing" >Third permeable layer</text>
<rect x="162.8" y="227.9" width="4.4" height="4.7" rx="2" fill="none" stroke="#666" stroke-width="0.5"/><text x="165.05" y="231.80" font-size="4.6" text-anchor="middle" fill="#000">7</text>
<text x="167.67" y="232.7" font-size="5.6" fill="#000" textLength="38.58" lengthAdjust="spacing" >Third aquiclude</text>
</svg></body></html>
